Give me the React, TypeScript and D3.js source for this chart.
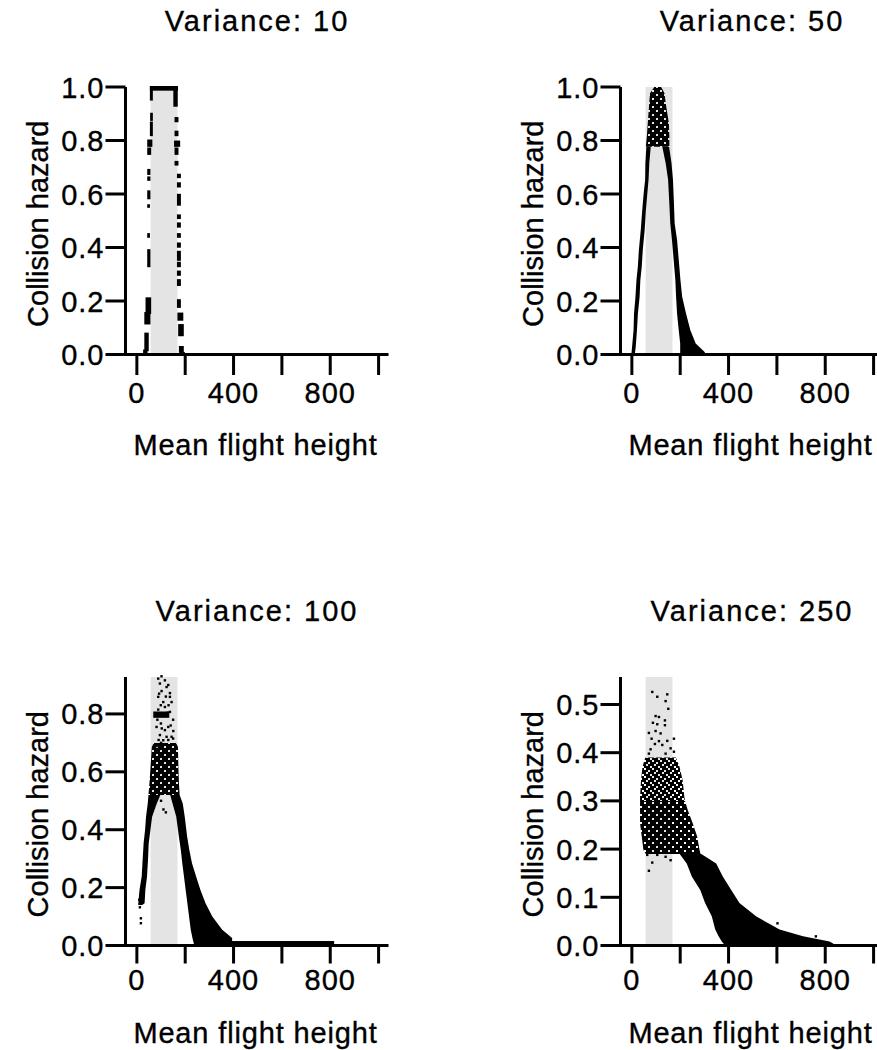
import React from 'react';
import * as d3 from 'd3';

type Row = [number, number, number]; // [hazard, heightLo, heightHi]
type Block = [number, number, number, number]; // [h0, h1, v0, v1]
type Pt = [number, number]; // [height, hazard]

// ---------- shared axis data ----------
const xTickValues = [0, 200, 400, 600, 800, 1000];
const xTickLabels = ['0', '', '400', '', '800', ''];
const xDomain: [number, number] = [-47, 1041];
const rotorZone: [number, number] = [57, 168];
const titles = ['Variance: 10', 'Variance: 50', 'Variance: 100', 'Variance: 250'];
const yMax = [1.0, 1.0, 0.9276, 0.557];
const yTicks = [
  [0, 0.2, 0.4, 0.6, 0.8, 1.0],
  [0, 0.2, 0.4, 0.6, 0.8, 1.0],
  [0, 0.2, 0.4, 0.6, 0.8],
  [0, 0.1, 0.2, 0.3, 0.4, 0.5],
];

// ---------- Variance 10 ----------
const hazard10Blocks: Block[] = [
  [58, 166, 0.99, 1.0],
  [58, 62, 0.953, 1.0],
  [59, 62, 0.877, 0.9],
  [58, 62, 0.82, 0.867],
  [47, 60, 0.78, 0.8],
  [47, 55, 0.75, 0.77],
  [47, 52, 0.675, 0.69],
  [47, 52, 0.653, 0.662],
  [47, 52, 0.584, 0.61],
  [47, 50, 0.552, 0.558],
  [47, 50, 0.44, 0.45],
  [47, 52, 0.33, 0.39],
  [40, 55, 0.155, 0.21],
  [35, 52, 0.116, 0.155],
  [35, 45, 0.016, 0.078],
  [30, 40, 0.0, 0.015],
  [155, 165, 0.93, 1.0],
  [160, 168, 0.872, 0.884],
  [160, 168, 0.82, 0.833],
  [158, 175, 0.78, 0.796],
  [160, 168, 0.75, 0.77],
  [160, 168, 0.71, 0.72],
  [170, 178, 0.663, 0.672],
  [170, 178, 0.628, 0.64],
  [170, 178, 0.56, 0.597],
  [170, 178, 0.51, 0.52],
  [170, 178, 0.478, 0.49],
  [170, 178, 0.44, 0.45],
  [170, 178, 0.403, 0.415],
  [170, 178, 0.354, 0.384],
  [170, 178, 0.33, 0.343],
  [170, 178, 0.298, 0.31],
  [170, 178, 0.26, 0.278],
  [170, 178, 0.178, 0.203],
  [172, 188, 0.13, 0.153],
  [175, 190, 0.072, 0.11],
  [178, 190, 0.01, 0.028],
  [180, 195, 0, 0.005],
];

// ---------- Variance 50 ----------
const hazard50Top: Row[] = [
  [1.0, 95, 119], [0.977, 77, 133], [0.927, 73, 140], [0.865, 68, 151], [0.815, 64, 153], [0.777, 60, 153],
];
const hazard50Left: Row[] = [
  [0.777, 62, 76], [0.715, 58, 70], [0.653, 57, 67], [0.603, 51, 62], [0.54, 45, 56], [0.466, 39, 51],
  [0.39, 31, 43], [0.33, 27, 39], [0.278, 21, 33], [0.216, 17, 30], [0.153, 11, 23], [0.091, 9, 19],
  [0.029, 3, 14], [0.0, 0, 10],
];
const hazard50Right: Row[] = [
  [0.777, 128, 152], [0.715, 142, 162], [0.653, 152, 168], [0.565, 157, 172], [0.49, 161, 175],
  [0.428, 168, 185], [0.353, 175, 192], [0.278, 182, 199], [0.216, 185, 206], [0.153, 189, 222],
  [0.091, 196, 240], [0.041, 202, 262], [0.01, 202, 298], [0.0, 202, 305],
];

// ---------- Variance 100 ----------
const hazard100Core: Row[] = [
  [0.70, 72, 160], [0.686, 64, 168], [0.606, 58, 170], [0.56, 54, 172], [0.52, 50, 175],
];
const hazard100Left: Row[] = [
  [0.52, 50, 95], [0.49, 47, 80], [0.445, 40, 61], [0.399, 36, 54], [0.353, 30, 47], [0.296, 26, 44],
  [0.238, 22, 40], [0.192, 13, 33], [0.146, 8, 30], [0.14, 8, 20],
];
const hazard100Right: Row[] = [
  [0.52, 140, 175], [0.49, 150, 188], [0.445, 165, 196], [0.376, 176, 206], [0.33, 184, 215],
  [0.284, 190, 226], [0.238, 197, 243], [0.192, 204, 261], [0.146, 211, 282], [0.1, 218, 310],
  [0.054, 225, 351], [0.026, 232, 392], [0.006, 238, 392], [0.0, 238, 392],
];
const hazard100Blocks: Block[] = [
  [250, 812, 0.0, 0.012],
  [72, 130, 0.79, 0.805],
];
const hazard100Points: Pt[] = [
  [88.4, 0.922], [116, 0.916], [95.3, 0.905], [123, 0.893], [102.3, 0.879], [136.8, 0.872],
  [88.4, 0.859], [136.8, 0.859], [109.2, 0.841], [143.7, 0.841], [116, 0.824], [88.4, 0.815],
  [88.4, 0.799], [109.2, 0.796], [127, 0.804], [136.8, 0.807], [99.5, 0.767], [81.5, 0.755],
  [129.9, 0.755], [116, 0.744], [150.6, 0.741], [95.3, 0.727], [123, 0.721], [143.7, 0.721],
  [109.2, 0.709], [157.5, 0.695], [81.5, 0.689], [12.5, 0.132], [16.6, 0.094], [16.6, 0.077],
  [10, 0.158], [110, 0.47], [120, 0.46], [100, 0.5],
  [102, 0.93], [130, 0.9], [92, 0.87], [120, 0.86], [99, 0.83], [131, 0.83], [150, 0.78],
  [85, 0.78], [103, 0.75], [140, 0.76], [90, 0.71], [130, 0.71], [150, 0.715], [100, 0.7],
];

// ---------- Variance 250 ----------
const hazard250Upper: Row[] = [
  [0.39, 58, 180], [0.371, 46, 195], [0.343, 40, 208], [0.308, 36, 215], [0.3, 36, 218],
];
const hazard250Lower: Row[] = [
  [0.3, 36, 218], [0.281, 36, 229], [0.253, 36, 250], [0.226, 43, 268], [0.198, 50, 278], [0.19, 60, 282],
];
const hazard250Tail: Row[] = [
  [0.19, 200, 285], [0.17, 229, 347], [0.143, 250, 374], [0.115, 285, 409], [0.088, 305, 443],
  [0.06, 333, 513], [0.033, 347, 609], [0.019, 361, 706], [0.0084, 374, 816], [0.0, 388, 844],
];
const hazard250Points: Pt[] = [
  [84.4, 0.526], [105.1, 0.516], [146.5, 0.521], [139.6, 0.507], [150.7, 0.491], [98.2, 0.476],
  [112, 0.474], [136.8, 0.467], [87.1, 0.462], [105.1, 0.459], [136.8, 0.457], [70.5, 0.441],
  [98.2, 0.445], [118.9, 0.44], [81.6, 0.429], [112, 0.424], [146.5, 0.4245], [174.1, 0.429],
  [95.4, 0.418], [125.8, 0.416], [160.3, 0.409], [77.4, 0.407], [70.5, 0.398], [139.6, 0.398],
  [174.1, 0.402], [63.6, 0.188], [84.4, 0.172], [160.3, 0.177], [70.5, 0.155], [139.6, 0.184],
  [105.1, 0.188], [602.4, 0.046], [761.2, 0.019],
];

// ---------- layout & style ----------
const panelLeft = [125.5, 620.5, 125.5, 620.5];
const panelTop = [87, 87, 677, 677];
const panelBottom = [354.5, 354.5, 945.5, 945.5];
const panelWidth = 263;
const xTickLen = [20.5, 20.5, 18, 18];
const xLabelDy = [48.3, 48.3, 44.5, 44.5];
const xTitleDy = [100.5, 100.5, 97, 97];

const panelBands: Row[][][] = [
  [],
  [hazard50Top, hazard50Left, hazard50Right],
  [hazard100Core, hazard100Left, hazard100Right],
  [hazard250Upper, hazard250Lower, hazard250Tail],
];
const bandFills: string[][] = [
  [],
  ['url(#dot88)', '#000', '#000'],
  ['url(#dot88)', '#000', '#000'],
  ['url(#dot75)', 'url(#dot88)', '#000'],
];
const panelBlocks: Block[][] = [hazard10Blocks, [], hazard100Blocks, []];
const panelPoints: Pt[][] = [[], [], hazard100Points, hazard250Points];

const patterns: { id: string; cells: string[] }[] = [
  { id: 'dot75', cells: ['1101', '0111', '1110', '1011'] },
  { id: 'dot88', cells: ['1111', '1101', '1111', '0111'] },
];

const FONT = "'Liberation Sans', Arial, Helvetica, sans-serif";
const textProps = { fontSize: 29, fontFamily: FONT, fill: '#000', stroke: '#000', strokeWidth: 0.35 };

function Panel({ i }: { i: number }) {
  const L = panelLeft[i];
  const R = L + panelWidth;
  const T = panelTop[i];
  const B = panelBottom[i];
  const x = d3.scaleLinear().domain(xDomain).range([L, R]);
  const y = d3.scaleLinear().domain([0, yMax[i]]).range([B, T]);
  const area = d3
    .area<Row>()
    .y((r) => y(r[0]))
    .x0((r) => x(r[1]) - 0.5)
    .x1((r) => x(r[2]) + 0.5);
  const fmt = d3.format('.1f');

  return (
    <g>
      <text x={(L + R) / 2} y={T - 56.5} textAnchor="middle" letterSpacing={2} {...textProps}>
        {titles[i]}
      </text>
      <rect
        x={x(rotorZone[0])}
        y={T}
        width={x(rotorZone[1]) - x(rotorZone[0])}
        height={B - T}
        fill="#e4e4e4"
      />
      {panelBands[i].map((band, k) => (
        <path key={'b' + k} d={area(band) || ''} fill={bandFills[i][k]} />
      ))}
      {panelBlocks[i].map((b, k) => {
        const x0 = x(b[0]) - 1;
        const x1 = x(b[1]) + 1;
        const y0 = Math.max(y(b[3]) - 1, T - 1);
        const y1 = y(b[2]) + 1;
        return <rect key={'k' + k} x={x0} y={y0} width={x1 - x0} height={y1 - y0} fill="#000" />;
      })}
      {panelPoints[i].map((p, k) => (
        <rect key={'p' + k} x={x(p[0]) - 1.2} y={y(p[1]) - 1.2} width={2.4} height={2.4} fill="#000" />
      ))}
      {/* axes */}
      <line x1={L} x2={L} y1={T} y2={B + 1.5} stroke="#000" strokeWidth={3} />
      <line x1={L} x2={R} y1={B} y2={B} stroke="#000" strokeWidth={3} />
      {yTicks[i].map((t) => (
        <g key={'yt' + t}>
          <line x1={L - 20} x2={L} y1={y(t)} y2={y(t)} stroke="#000" strokeWidth={3} />
          <text x={L - 21} y={y(t) + 10.5} textAnchor="end" letterSpacing={1} {...textProps}>
            {fmt(t)}
          </text>
        </g>
      ))}
      {xTickValues.map((t, k) => (
        <g key={'xt' + t}>
          <line x1={x(t)} x2={x(t)} y1={B} y2={B + xTickLen[i]} stroke="#000" strokeWidth={3} />
          {xTickLabels[k] && (
            <text x={x(t)} y={B + xLabelDy[i]} textAnchor="middle" letterSpacing={1} {...textProps}>
              {xTickLabels[k]}
            </text>
          )}
        </g>
      ))}
      <text
        x={(L + R) / 2 - 1.5}
        y={B + xTitleDy[i]}
        textAnchor="middle"
        letterSpacing={0.85}
        {...textProps}
      >
        Mean flight height
      </text>
      <text
        transform={`translate(${L - 77.5},${(T + B) / 2 + 3}) rotate(-90)`}
        textAnchor="middle"
        {...textProps}
      >
        Collision hazard
      </text>
    </g>
  );
}

export default function App() {
  return (
    <svg
      width={877}
      height={1050}
      style={{ position: 'absolute', left: 0, top: 0, background: '#fff', display: 'block' }}
    >
      <defs>
        {patterns.map((p) => (
          <pattern key={p.id} id={p.id} width={8} height={8} patternUnits="userSpaceOnUse">
            {p.cells.flatMap((row, r) =>
              row.split('').map((c, col) =>
                c === '1' ? <rect key={r + '-' + col} x={col * 2} y={r * 2} width={2} height={2} fill="#000" /> : null
              )
            )}
          </pattern>
        ))}
      </defs>
      <rect x={0} y={0} width={877} height={1050} fill="#fff" />
      {[0, 1, 2, 3].map((i) => (
        <Panel key={i} i={i} />
      ))}
    </svg>
  );
}
